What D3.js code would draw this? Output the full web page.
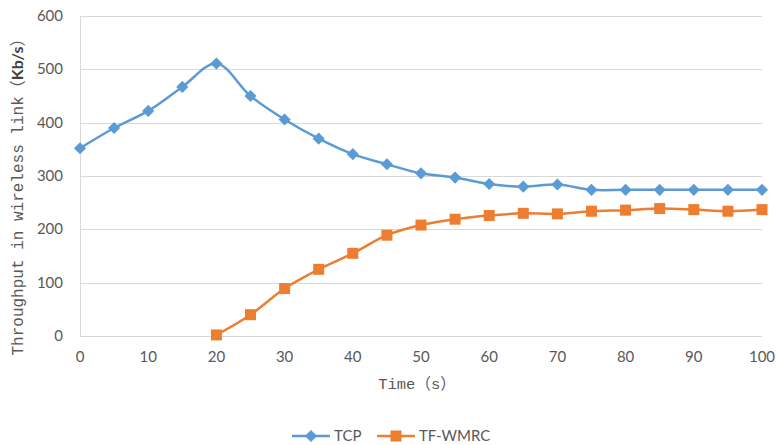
<!doctype html>
<html lang="en">
	<head>
		<meta charset="utf-8">
		<title>Throughput in wireless link</title>
		<script src="https://d3js.org/d3.v7.min.js"></script>
		<style>
			body { margin: 0; background: #fff; }
			.grid line { stroke: #d9d9d9; stroke-width: 1; }
			.tick-label { font-family: 'Lato', 'Open Sans', sans-serif; font-size: 15px; fill: #595959; }
			.axis-title { font-family: 'Liberation Mono', monospace; fill: #595959; }
			.cjk { font-family: 'Noto Sans CJK SC', sans-serif; }
		</style>
	</head>
	<body>
		<div id="chart"></div>
		<script>
			let times = [0, 5, 10, 15, 20, 25, 30, 35, 40, 45, 50, 55, 60, 65, 70, 75, 80, 85, 90, 95, 100]
			let tcp = [352, 390, 422, 467, 511, 450, 406, 370, 341, 322, 305, 297, 285, 280, 284, 274, 274, 274, 274, 274, 274]
			// TF-WMRC starts at t = 20
			let wmrcTimes = [20, 25, 30, 35, 40, 45, 50, 55, 60, 65, 70, 75, 80, 85, 90, 95, 100]
			let wmrc = [2, 40, 89, 125, 155, 189, 208, 219, 226, 230, 229, 234, 236, 239, 237, 234, 237]
			let yTicks = [0, 100, 200, 300, 400, 500, 600]
			let xTicks = [0, 10, 20, 30, 40, 50, 60, 70, 80, 90, 100]

			let width = 777
			let height = 445
			let blue = '#5b9bd5'
			let orange = '#ed7d31'

			let svg = d3.select('#chart')
				.append('svg')
				.attr('width', width)
				.attr('height', height)

			let x = d3.scaleLinear().domain([0, 100]).range([80, 762])
			let y = d3.scaleLinear().domain([0, 600]).range([336, 16])

			// gridlines
			svg.append('g')
				.attr('class', 'grid')
				.selectAll('line')
				.data(yTicks)
				.enter().append('line')
					.attr('x1', x(0))
					.attr('x2', x(100))
					.attr('y1', d => Math.round(y(d)) + 0.5)
					.attr('y2', d => Math.round(y(d)) + 0.5)

			svg.append('line')
				.attr('x1', x(0) + 0.5).attr('x2', x(0) + 0.5)
				.attr('y1', y(600)).attr('y2', y(0))
				.attr('stroke', '#d9d9d9')

			// tick labels
			svg.append('g')
				.selectAll('text')
				.data(yTicks)
				.enter().append('text')
					.attr('class', 'tick-label')
					.attr('x', 63)
					.attr('y', d => y(d) + 5)
					.attr('text-anchor', 'end')
					.text(d => d)

			svg.append('g')
				.selectAll('text')
				.data(xTicks)
				.enter().append('text')
					.attr('class', 'tick-label')
					.attr('x', d => x(d))
					.attr('y', 362)
					.attr('text-anchor', 'middle')
					.text(d => d)

			// axis titles
			let xTitle = svg.append('text')
				.attr('class', 'axis-title')
				.style('font-size', '15.5px')
				.attr('x', 417)
				.attr('y', 389)
				.attr('text-anchor', 'middle')
			xTitle.append('tspan').text('Time')
			xTitle.append('tspan').attr('class', 'cjk').text('（')
			xTitle.append('tspan').text('s')
			xTitle.append('tspan').attr('class', 'cjk').text('）')

			let yTitle = svg.append('text')
				.attr('class', 'axis-title')
				.style('font-size', '16px')
				.attr('transform', 'translate(23,193) rotate(-90)')
				.attr('text-anchor', 'middle')
			yTitle.append('tspan').text('Throughput in wireless link')
			yTitle.append('tspan').attr('class', 'cjk').text('（')
			yTitle.append('tspan')
				.style('font-family', "'Lato', sans-serif")
				.style('font-weight', 'bold')
				.style('fill', '#404040')
				.text('Kb/s')
			yTitle.append('tspan').attr('class', 'cjk').text('）')

			// series
			let line = d3.line()
				.x(d => x(d[0]))
				.y(d => y(d[1]))
				.curve(d3.curveCatmullRom.alpha(0.5))

			let tcpData = times.map((t, i) => [t, tcp[i]])
			let wmrcData = wmrcTimes.map((t, i) => [t, wmrc[i]])

			let diamond = d3.symbol().type(d3.symbolSquare).size(74)
			let square = d3.symbol().type(d3.symbolSquare).size(121)

			svg.append('path')
				.datum(tcpData)
				.attr('d', line)
				.attr('fill', 'none')
				.attr('stroke', blue)
				.attr('stroke-width', 2.5)
				.attr('stroke-linejoin', 'round')

			svg.append('path')
				.datum(wmrcData)
				.attr('d', line)
				.attr('fill', 'none')
				.attr('stroke', orange)
				.attr('stroke-width', 2.5)
				.attr('stroke-linejoin', 'round')

			svg.append('g')
				.selectAll('path')
				.data(tcpData)
				.enter().append('path')
					.attr('d', diamond)
					.attr('transform', d => 'translate(' + x(d[0]) + ',' + y(d[1]) + ') rotate(45)')
					.attr('fill', blue)

			svg.append('g')
				.selectAll('path')
				.data(wmrcData)
				.enter().append('path')
					.attr('d', square)
					.attr('transform', d => 'translate(' + x(d[0]) + ',' + y(d[1]) + ')')
					.attr('fill', orange)

			// legend
			let legend = [
				{name: 'TCP', color: blue, sym: diamond, rot: 45, x0: 292},
				{name: 'TF-WMRC', color: orange, sym: square, rot: 0, x0: 377},
			]
			let lg = svg.append('g')
				.selectAll('g')
				.data(legend)
				.enter().append('g')
					.attr('transform', d => 'translate(' + d.x0 + ',436)')
			lg.append('line')
				.attr('x1', 0).attr('x2', 38)
				.attr('stroke', d => d.color)
				.attr('stroke-width', 2.5)
			lg.append('path')
				.attr('d', d => d.sym())
				.attr('transform', d => 'translate(19,0) rotate(' + d.rot + ')')
				.attr('fill', d => d.color)
			lg.append('text')
				.attr('class', 'tick-label')
				.attr('x', 42)
				.attr('y', 5)
				.text(d => d.name)
		</script>
	</body>
</html>
